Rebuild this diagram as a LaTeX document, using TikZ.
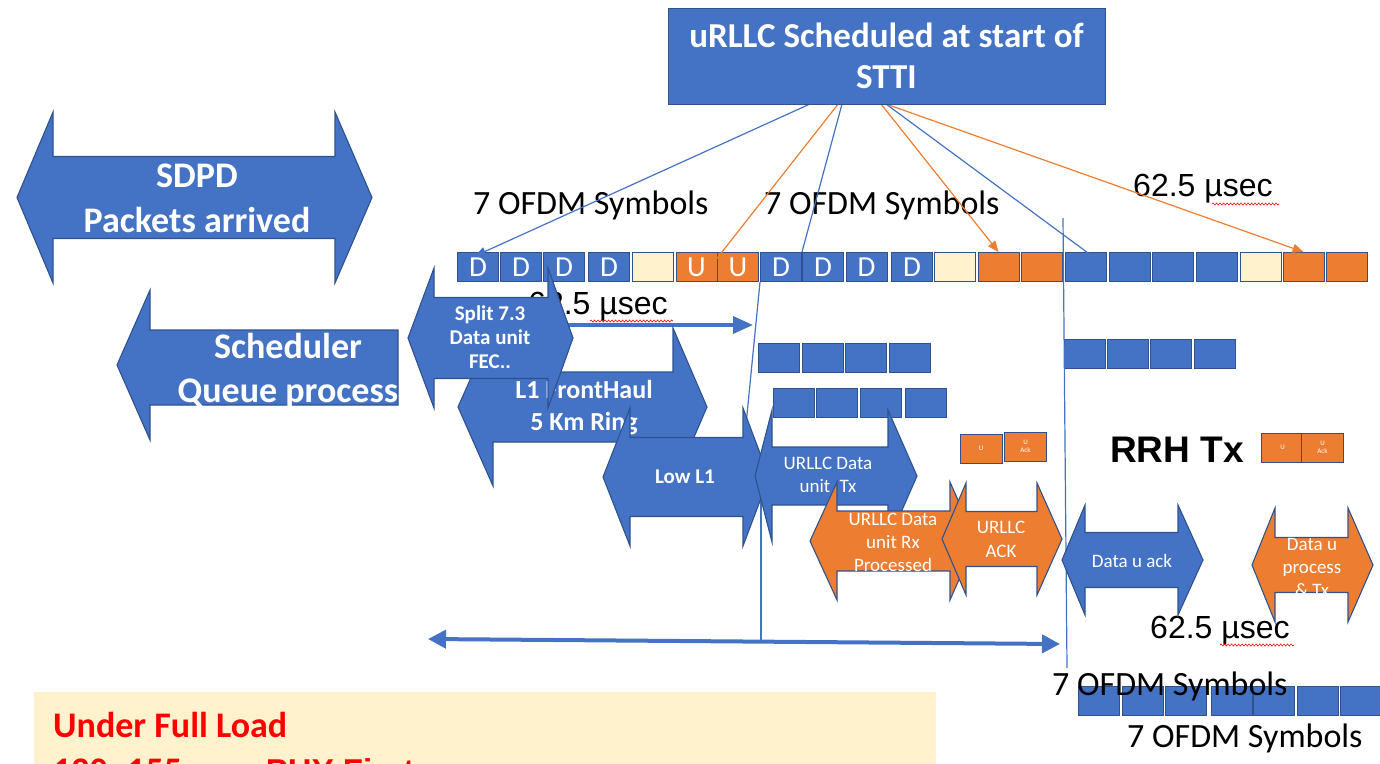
\documentclass[tikz,border=0pt]{standalone}
\usepackage{fontspec}
\setmainfont{Carlito}
\newfontfamily\arialf{Liberation Sans}
\usetikzlibrary{arrows.meta,calc,decorations.pathmorphing}

\definecolor{ablue}{HTML}{4472C4}
\definecolor{aedge}{HTML}{2F528F}
\definecolor{aorange}{HTML}{ED7D31}
\definecolor{acream}{HTML}{FFF2CC}
\definecolor{ared}{HTML}{FF0000}

\newcommand\fsz[2]{\fontsize{#1}{#2}\selectfont}
% block double arrow: style, left tip x, left head x, right head x, right tip x, centre y, shaft half height, head half height
\newcommand\blockarrow[8]{%
  \filldraw[#1] (#2,#6) -- (#3,{#6-#8}) -- (#3,{#6-#7}) -- (#4,{#6-#7}) -- (#4,{#6-#8})
    -- (#5,#6) -- (#4,{#6+#8}) -- (#4,{#6+#7}) -- (#3,{#6+#7}) -- (#3,{#6+#8}) -- cycle;}

\begin{document}
\begin{tikzpicture}[x=1pt,y=-1pt,
  bshape/.style={fill=ablue,draw=aedge,line width=1.1pt,line join=miter},
  oshape/.style={fill=aorange,draw=aedge,line width=1.1pt,line join=miter},
  blbl/.style={text=white,align=center,inner sep=0pt,font=\bfseries\fsz{21}{24}},
  wlbl/.style={text=white,align=center,inner sep=0pt,font=\fsz{19}{23}},
  symbox/.style={draw=aedge,line width=1pt,minimum width=41pt,minimum height=29pt,inner sep=0pt,text=white,font=\fsz{29}{29}},
  symD/.style={symbox,fill=ablue},
  symO/.style={symbox,fill=aorange},
  symC/.style={symbox,fill=acream},
  smallbox/.style={draw=aedge,line width=0.9pt,fill=aorange,minimum width=42pt,minimum height=29pt,inner sep=0pt,text=white,align=center,font=\fsz{7}{8}},
  ofdm/.style={anchor=base west,inner sep=0pt,font=\fsz{34}{40}},
  usec/.style={anchor=base west,inner sep=0pt,font=\arialf\fsz{32}{38}},
  squig/.style={draw=red,line width=0.6pt,decorate,decoration={snake,amplitude=1pt,segment length=3.5pt}},
  blink/.style={draw=ablue,line width=1.2pt},
  olink/.style={draw=aorange,line width=1.2pt},
  tipb/.style={-{Triangle[length=11pt,width=9pt]}},
]
\useasboundingbox (0,0) rectangle (1380,763);
\clip (0,0) rectangle (1380,763);

% note box at the bottom
\fill[acream] (34,692) rectangle (936,775);
\node[anchor=base west,inner sep=0pt,text=ared,font=\bfseries\fsz{36}{44}] (load1) at (53,737) {Under Full Load};
\node[anchor=base west,inner sep=0pt,text=ared,font=\bfseries\fsz{36}{44}] (load2) at (53,782) {120- 155 µsec {\arialf\fsz{33}{40}PHY First success}};

% symbol row of the short TTIs
\foreach \n/\cx in {r1/478,r2/521,r3/564,r4/609,r8/781,r9/823,r10/866.5,r11/912}
  \node[symD] (\n) at (\cx,267) {D};
\foreach \n/\cx in {r6/696.5,r7/738}
  \node[symO] (\n) at (\cx,267) {U};
\foreach \n/\cx in {r5/652.5,r12/955,r19/1260.5}
  \node[symC] (\n) at (\cx,267) {};
\foreach \n/\cx in {r13/998.5,r14/1042,r20/1303.5,r21/1346.5}
  \node[symO] (\n) at (\cx,267) {};
\foreach \n/\cx in {r15/1086,r16/1129.5,r17/1172.5,r18/1216.5}
  \node[symD] (\n) at (\cx,267) {};

% further symbol groups
\foreach \n/\cx in {m1/779,m2/822.5,m3/865.5,m4/910}
  \node[symD] (\n) at (\cx,358) {};
\foreach \n/\cx in {k1/793.5,k2/837,k3/881,k4/926}
  \node[symD] (\n) at (\cx,402.5) {};
\foreach \n/\cx in {q1/1085,q2/1127.5,q3/1171,q4/1215}
  \node[symD] (\n) at (\cx,354) {};
\foreach \n/\cx in {b1/1099,b2/1142.5,b3/1186,b4/1231.5,b5/1274,b6/1317.5,b7/1361}
  \node[symD] (\n) at (\cx,701) {};

% U / U Ack pairs
\node[smallbox] (u1) at (981,448.5) {U};
\node[smallbox] (ua1) at (1025.5,446.5) {U\\Ack};
\node[smallbox] (u2) at (1282.5,447.5) {U};
\node[smallbox] (ua2) at (1322.5,447.5) {U\\Ack};

% time markers
\coordinate (v1top) at (1063,218);
\coordinate (v1bot) at (1067,668);
\draw[blink] (v1top) -- (v1bot);
\coordinate (slant) at (744,445);
\draw[blink] (r8.south west) -- (slant);
\coordinate (v2top) at (761,470);
\coordinate (v2bot) at (761,640);
\draw[blink] (v2top) -- (v2bot);

% timing labels
\node[ofdm] (of1) at (473,214) {7 OFDM Symbols};
\node[ofdm] (of2) at (764,214) {7 OFDM Symbols};
\node[ofdm] (of3) at (1052,695) {7 OFDM Symbols};
\node[ofdm] (of4) at (1127,747) {7 OFDM Symbols};
\node[usec] (us1) at (1133,196) {62.5 µsec};
\node[usec] (us2) at (528,314) {62.5 µsec};
\node[usec] (us3) at (1150,638) {62.5 µsec};
\draw[squig] (1212,204) -- (1279,204);
\draw[squig] (590,321) -- (673,321);
\draw[squig] (1220,645) -- (1294,645);
\node[anchor=base west,inner sep=0pt,font=\arialf\bfseries\fsz{37}{44}] (rrh) at (1110,462) {RRH Tx};

% scheduling decision box and its links
\coordinate (sw) at (668,104);
\draw[blink,tipb] ($(sw)+(142,0)$) -- ($(r1.north)+(-3,4)$);
\draw[olink] ($(sw)+(189,-24)$) -- ($(r6.north east)+(-1,7)$);
\draw[blink] ($(sw)+(174,0)$) -- (r9.north west);
\draw[olink,-{Triangle[length=11pt,width=9pt]}] ($(sw)+(194,-24)$) -- (r13.north);
\draw[blink,tipb] ($(sw)+(218,0)$) -- (r15.east);
\draw[olink,-{Triangle[length=11pt,width=9pt]}] ($(sw)+(218,0)$) -- (r20.north);
\node[fill=ablue,draw=aedge,line width=0.8pt,minimum width=437pt,minimum height=96pt,inner sep=0pt,
      text=white,align=center,font=\bfseries\fsz{35}{41}] (sched) at (886.5,56) {uRLLC Scheduled at start of\\STTI};

% interval arrows
\coordinate (ma1) at (553,325);
\coordinate (ma2) at (753,325);
\draw[ablue,line width=3.5pt,-{Triangle[length=20pt,width=17pt]}] (ma1) -- (ma2);
\coordinate (ba1) at (428,639);
\coordinate (ba2) at (1060,644);
\draw[ablue,line width=4pt,{Triangle[length=18pt,width=18pt]}-{Triangle[length=18pt,width=18pt]}] (ba1) -- (ba2);

% processing stages
\blockarrow{bshape}{17}{53}{335}{372}{197.5}{41}{85.5}
\node[text=white,align=center,inner sep=0pt,font=\bfseries\fsz{36}{45}] (sdpd) at (197,198) {SDPD\\Packets arrived};

\filldraw[bshape] (117,365) -- (150,290) -- (150,330) -- (398,330) -- (398,405) -- (150,405) -- (150,440) -- cycle;
\node[text=white,align=center,inner sep=0pt,font=\bfseries\fsz{36}{44}] (sched2) at (288,371) {Scheduler\\Queue process};

\blockarrow{bshape}{458}{493}{673}{707}{407}{35}{79}
\node[blbl,font=\bfseries\fsz{26}{32}] (fh) at (584,408) {L1 FrontHaul\\5 Km Ring};

\blockarrow{bshape}{603}{630}{743}{769}{477}{39.5}{69}
\node[blbl] (low) at (685,477) {Low L1};

\blockarrow{bshape}{408}{434}{548}{573}{338}{40.5}{70}
\node[blbl] (split) at (490,337) {Split 7.3\\Data unit\\FEC..};

\blockarrow{bshape}{755}{772}{888}{917}{476}{29}{66}
\node[wlbl] (tx) at (828,475) {URLLC Data\\unit\enspace Tx};

\blockarrow{oshape}{810}{837}{950}{976}{541}{30}{59}
\node[wlbl] (rx) at (893,542) {URLLC Data\\unit Rx\\Processed};

\blockarrow{oshape}{942}{966}{1037}{1062}{539}{27.5}{56}
\node[wlbl,font=\fsz{19}{24}] (ack) at (1001,539) {URLLC\\ACK};

\blockarrow{bshape}{1062}{1085}{1178}{1203}{560}{27.5}{55}
\node[wlbl] (uack) at (1132,561) {Data u ack};

\blockarrow{oshape}{1252}{1275}{1348}{1373}{565}{27.5}{57}
\node[wlbl] (uproc) at (1312,567) {Data u\\process\\\& Tx};
\end{tikzpicture}
\end{document}
